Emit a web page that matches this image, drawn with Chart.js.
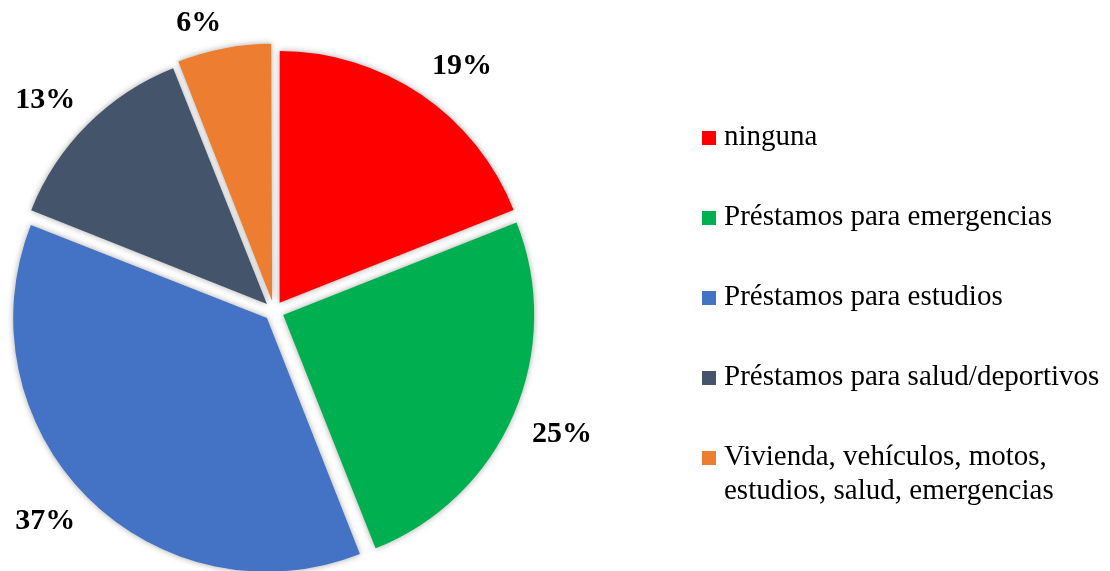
<!DOCTYPE html>
<html>
<head>
<meta charset="utf-8">
<script src="https://cdn.jsdelivr.net/npm/chart.js@4.4.1/dist/chart.umd.min.js"></script>
<style>
  html, body { margin: 0; padding: 0; background: #fff; }
  #wrap { position: relative; width: 1110px; height: 571px; overflow: hidden; }
  #chart-pie { position: absolute; left: 0; top: 0; }
  #legend {
    position: absolute; left: 702px; top: 118px;
    font-family: "Liberation Serif", "Times New Roman", serif;
    font-size: 29px; color: #000;
  }
  .item { display: flex; align-items: flex-start; height: 80px; }
  .box { width: 14px; height: 14px; margin: 13px 8px 0 0; flex: none; }
  .txt { white-space: pre-line; line-height: 34px; }
</style>
</head>
<body>
<div id="wrap">
  <canvas id="chart-pie" width="1110" height="600"></canvas>
  <div id="legend"></div>
</div>
<script>
const categories = [
  "ninguna",
  "Préstamos para emergencias",
  "Préstamos para estudios",
  "Préstamos para salud/deportivos",
  "Vivienda, vehículos, motos,\nestudios, salud, emergencias",
];
const values = [19, 25, 37, 13, 6];
const colors = ["#ff0000", "#00b050", "#4472c4", "#44546a", "#ed7d31"];

// chart.js v4 draws arcs shifted by offset / 4
const OFFSET = 40;

// outside percentage labels, Excel style
const pctLabels = {
  id: "pctLabels",
  afterDatasetsDraw(chart) {
    const ctx = chart.ctx;
    const meta = chart.getDatasetMeta(0);
    const total = values.reduce((a, b) => a + b, 0);
    ctx.save();
    ctx.font = "bold 30px 'Liberation Serif', 'Times New Roman', serif";
    ctx.fillStyle = "#000";
    ctx.textAlign = "center";
    ctx.textBaseline = "middle";
    meta.data.forEach((arc, i) => {
      const p = arc.getProps(["x", "y", "startAngle", "endAngle", "outerRadius"], true);
      const mid = (p.startAngle + p.endAngle) / 2;
      const text = Math.round((values[i] / total) * 100) + "%";
      const hw = ctx.measureText(text).width / 2;
      const hh = 12;
      const c = Math.cos(mid), s = Math.sin(mid);
      const d = p.outerRadius + OFFSET / 4 + 20;
      const x = p.x + c * d + Math.sign(c) * hw;
      const y = p.y + s * d + Math.sign(s) * hh;
      ctx.fillText(text, x, y);
    });
    ctx.restore();
  },
};

// soft grey halo round each slice
const softShadow = {
  id: "softShadow",
  beforeDatasetsDraw(chart) {
    const ctx = chart.ctx;
    ctx.save();
    ctx.shadowColor = "rgba(0,0,0,0.35)";
    ctx.shadowBlur = 6;
  },
  afterDatasetsDraw(chart) {
    chart.ctx.restore();
  },
};

const pieChart = new Chart(document.getElementById("chart-pie").getContext("2d"), {
  type: "pie",
  data: {
    labels: categories,
    datasets: [
      {
        data: values,
        backgroundColor: colors,
        borderWidth: 0,
        offset: OFFSET,
      },
    ],
  },
  options: {
    responsive: false,
    animation: false,
    layout: { padding: { left: 3, top: 40, right: 565, bottom: 18 } },
    plugins: {
      legend: { display: false },
      tooltip: { enabled: false },
    },
  },
  plugins: [softShadow, pctLabels],
});

// html legend
const legendEl = document.getElementById("legend");
categories.forEach((name, i) => {
  const row = document.createElement("div");
  row.className = "item";
  row.innerHTML = '<span class="box" style="background:' + colors[i] + '"></span><span class="txt"></span>';
  row.querySelector(".txt").textContent = name;
  legendEl.appendChild(row);
});
</script>
</body>
</html>
